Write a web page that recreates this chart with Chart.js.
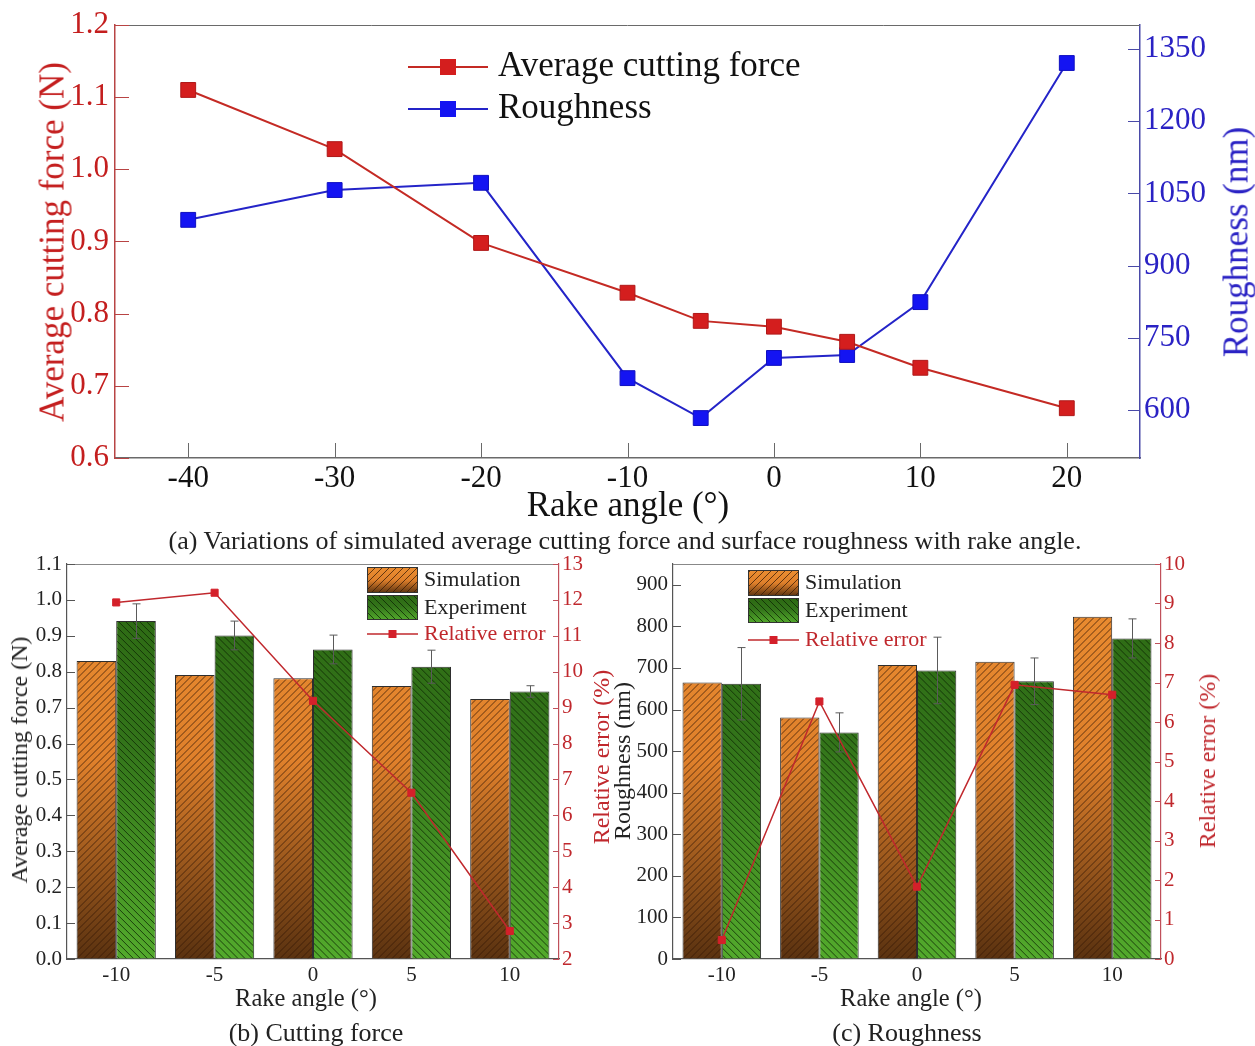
<!DOCTYPE html>
<html>
<head>
<meta charset="utf-8">
<script src="https://cdn.jsdelivr.net/npm/chart.js@4"></script>
<style>
body { margin: 0; background: #fff; }
#fig { position: relative; width: 1255px; height: 1046px; overflow: hidden; font-family: 'Liberation Serif', 'Times New Roman', serif; }
canvas { position: absolute; }
.lbl { position: absolute; white-space: nowrap; line-height: 1; transform: translate(-50%, -50%); }
.rot { transform: translate(-50%, -50%) rotate(-90deg); }
</style>
</head>
<body>
<div id="fig">
  <canvas id="chartA" width="1255" height="520" style="left:0px;top:0px"></canvas>
  <canvas id="chartB" width="620" height="460" style="left:0px;top:540px"></canvas>
  <canvas id="chartC" width="635" height="460" style="left:620px;top:540px"></canvas>

  <div class="lbl rot" style="left:52px;top:242px;font-size:35px;color:#c41e1e">Average cutting force (N)</div>
  <div class="lbl rot" style="left:1236px;top:242px;font-size:35px;color:#2a22c4">Roughness (nm)</div>
  <div class="lbl" style="left:628px;top:504px;font-size:35px;color:#111">Rake angle (°)</div>
  <div class="lbl" style="left:625px;top:541px;font-size:26px;color:#222">(a) Variations of simulated average cutting force and surface roughness with rake angle.</div>

  <div class="lbl rot" style="left:19px;top:760px;font-size:24px;color:#222">Average cutting force (N)</div>
  <div class="lbl rot" style="left:601px;top:757px;font-size:24px;color:#c0282d">Relative error (%)</div>
  <div class="lbl" style="left:306px;top:998px;font-size:24.5px;color:#222">Rake angle (°)</div>
  <div class="lbl" style="left:316px;top:1033px;font-size:26px;color:#222">(b) Cutting force</div>

  <div class="lbl rot" style="left:622px;top:761px;font-size:24px;color:#222">Roughness (nm)</div>
  <div class="lbl rot" style="left:1207px;top:761px;font-size:24px;color:#c0282d">Relative error (%)</div>
  <div class="lbl" style="left:911px;top:998px;font-size:24.5px;color:#222">Rake angle (°)</div>
  <div class="lbl" style="left:907px;top:1033px;font-size:26px;color:#222">(c) Roughness</div>
</div>
<script>
// (a) cutting force and roughness vs rake angle
const rakeA = [-40, -30, -20, -10, -5, 0, 5, 10, 20];
const forceA = [1.11, 1.028, 0.898, 0.829, 0.79, 0.782, 0.761, 0.725, 0.669];
const roughA = [995, 1057, 1072, 666, 583, 708, 714, 824, 1321];
const xTicksA = [-40, -30, -20, -10, 0, 10, 20];
const forceTicksA = [0.6, 0.7, 0.8, 0.9, 1.0, 1.1, 1.2];
const roughTicksA = [600, 750, 900, 1050, 1200, 1350];

// (b) cutting force, simulation vs experiment
const rakeBC = ['-10', '-5', '0', '5', '10'];
const forceSim = [0.83, 0.791, 0.782, 0.76, 0.724];
const forceExp = [0.941, 0.901, 0.862, 0.814, 0.745];
const forceExpErr = [0.048, 0.04, 0.04, 0.046, 0.016];
const forceRelErr = [11.93, 12.2, 9.19, 6.63, 2.78];
const forceTicks = [0, 0.1, 0.2, 0.3, 0.4, 0.5, 0.6, 0.7, 0.8, 0.9, 1.0, 1.1];
const forceErrTicks = [2, 3, 4, 5, 6, 7, 8, 9, 10, 11, 12, 13];

// (c) roughness, simulation vs experiment
const roughSim = [665, 581, 707, 715, 823];
const roughExp = [662, 545, 694, 668, 771];
const roughExpErr = [87, 47, 80, 56, 47];
const roughRelErr = [0.48, 6.52, 1.83, 6.94, 6.69];
const roughTicks = [0, 100, 200, 300, 400, 500, 600, 700, 800, 900];
const roughErrTicks = [0, 1, 2, 3, 4, 5, 6, 7, 8, 9, 10];

Chart.defaults.font.family = "'Liberation Serif', 'Times New Roman', serif";
Chart.defaults.color = '#222';

const RED = '#c0282d';
const simStops = [[0, '#ec8e31'], [0.5, '#df802b'], [1, '#5a3210']];
const expStops = [[0, '#2c6812'], [0.45, '#33741a'], [1, '#53aa2c']];

// diagonal hatch inside a rectangle
function hatch(ctx, l, t, r, b, dir, color) {
  ctx.save();
  ctx.beginPath();
  ctx.rect(l, t, r - l, b - t);
  ctx.clip();
  ctx.strokeStyle = color;
  ctx.lineWidth = 1;
  ctx.beginPath();
  const h = b - t;
  const start = Math.floor((l - h) / 7) * 7;
  for (let x = start; x < r + h; x += 7) {
    if (dir > 0) { ctx.moveTo(x, b); ctx.lineTo(x + h, t); }
    else { ctx.moveTo(x, t); ctx.lineTo(x + h, b); }
  }
  ctx.stroke();
  ctx.restore();
}

// vertical gradient over the plot area
function areaFill(stops) {
  return function (c) {
    const area = c.chart.chartArea;
    if (!area) return stops[0][1];
    const g = c.chart.ctx.createLinearGradient(0, area.top, 0, area.bottom);
    stops.forEach(s => g.addColorStop(s[0], s[1]));
    return g;
  };
}

// hatch + error bars drawn right after each bar dataset
const barDeco = {
  id: 'barDeco',
  afterDatasetDraw(chart, args) {
    const ds = chart.data.datasets[args.index];
    if (!ds.hatch) return;
    const ctx = chart.ctx;
    const yScale = chart.scales[args.meta.yAxisID];
    args.meta.data.forEach((el, i) => {
      const p = el.getProps(['x', 'y', 'base', 'width'], true);
      hatch(ctx, p.x - p.width / 2 + 1, p.y + 1, p.x + p.width / 2 - 1, p.base, ds.hatch, ds.hatchColor);
      if (ds.errors) {
        const top = yScale.getPixelForValue(ds.data[i] + ds.errors[i]);
        const bot = yScale.getPixelForValue(ds.data[i] - ds.errors[i]);
        const x = Math.round(p.x) + 0.5;
        ctx.save();
        ctx.strokeStyle = '#5a5a5a';
        ctx.lineWidth = 1;
        ctx.beginPath();
        ctx.moveTo(x, top); ctx.lineTo(x, bot);
        ctx.moveTo(x - 4, top); ctx.lineTo(x + 4, top);
        ctx.moveTo(x - 4, bot); ctx.lineTo(x + 4, bot);
        ctx.stroke();
        ctx.restore();
      }
    });
  }
};

// inward tick marks and top frame line
function frameTicks(specs, topColor) {
  return {
    id: 'frameTicks',
    afterDraw(chart) {
      const ctx = chart.ctx, a = chart.chartArea;
      ctx.save();
      ctx.lineWidth = 1;
      ctx.strokeStyle = topColor;
      ctx.beginPath();
      ctx.moveTo(a.left, a.top + 0.5); ctx.lineTo(a.right, a.top + 0.5);
      ctx.stroke();
      specs.forEach(s => {
        const sc = chart.scales[s.axis];
        ctx.strokeStyle = s.color;
        ctx.beginPath();
        sc.ticks.forEach(t => {
          const v = Math.round(sc.getPixelForValue(t.value)) + 0.5;
          if (s.side === 'left') { ctx.moveTo(a.left, v); ctx.lineTo(a.left + s.len, v); }
          if (s.side === 'right') { ctx.moveTo(a.right, v); ctx.lineTo(a.right - s.len, v); }
          if (s.side === 'bottom') { ctx.moveTo(v, a.bottom); ctx.lineTo(v, a.bottom - s.len); }
        });
        ctx.stroke();
      });
      ctx.restore();
    }
  };
}

// legend drawn inside the plot
function legendBox(cfg) {
  return {
    id: 'legendBox',
    afterDraw(chart) {
      const ctx = chart.ctx;
      ctx.save();
      ctx.font = cfg.font;
      ctx.textBaseline = 'middle';
      cfg.items.forEach(it => {
        if (it.kind === 'line') {
          ctx.strokeStyle = it.color;
          ctx.lineWidth = it.lw;
          ctx.beginPath();
          ctx.moveTo(cfg.x, it.y); ctx.lineTo(cfg.x + cfg.w, it.y);
          ctx.stroke();
          ctx.fillStyle = it.marker;
          ctx.fillRect(cfg.x + cfg.w / 2 - it.size / 2, it.y - it.size / 2, it.size, it.size);
        } else {
          const g = ctx.createLinearGradient(0, it.y, 0, it.y + it.h);
          it.stops.forEach(s => g.addColorStop(s[0], s[1]));
          ctx.fillStyle = g;
          ctx.fillRect(cfg.x, it.y, cfg.w, it.h);
          hatch(ctx, cfg.x, it.y, cfg.x + cfg.w, it.y + it.h, it.dir, it.hatchColor);
          ctx.strokeStyle = '#333';
          ctx.lineWidth = 1;
          ctx.strokeRect(cfg.x + 0.5, it.y + 0.5, cfg.w - 1, it.h - 1);
        }
        ctx.fillStyle = it.textColor;
        ctx.fillText(it.text, cfg.x + cfg.w + cfg.gap, it.ty);
      });
      ctx.restore();
    }
  };
}

function fixTicks(list) {
  return s => { s.ticks = list.map(v => ({ value: v })); };
}

// ---------- chart (a) ----------
new Chart(document.getElementById('chartA'), {
  type: 'line',
  data: {
    datasets: [
      {
        label: 'Average cutting force',
        data: rakeA.map((x, i) => ({ x: x, y: forceA[i] })),
        yAxisID: 'y',
        borderColor: '#c42a24',
        borderWidth: 2,
        pointStyle: 'rect',
        pointRadius: 10.5,
        pointBackgroundColor: '#d41e1e',
        pointBorderColor: '#b01818',
        pointBorderWidth: 1
      },
      {
        label: 'Roughness',
        data: rakeA.map((x, i) => ({ x: x, y: roughA[i] })),
        yAxisID: 'y2',
        borderColor: '#2424c8',
        borderWidth: 2,
        pointStyle: 'rect',
        pointRadius: 10.5,
        pointBackgroundColor: '#1414f2',
        pointBorderColor: '#1010c0',
        pointBorderWidth: 1
      }
    ]
  },
  options: {
    responsive: false,
    animation: false,
    layout: { padding: { top: 25, left: 0, right: 0, bottom: 0 } },
    plugins: { legend: { display: false }, tooltip: { enabled: false } },
    scales: {
      x: {
        type: 'linear',
        min: -45, max: 25,
        afterBuildTicks: fixTicks(xTicksA),
        afterFit: s => { s.height = 62; },
        grid: { drawOnChartArea: false, drawTicks: false },
        border: { color: '#6a6a6a', width: 1.5 },
        ticks: { color: '#111', font: { size: 31 }, padding: 2, maxRotation: 0, callback: v => String(v) }
      },
      y: {
        position: 'left',
        min: 0.6, max: 1.2,
        afterBuildTicks: fixTicks(forceTicksA),
        afterFit: s => { s.width = 115; },
        grid: { drawOnChartArea: false, drawTicks: false },
        border: { color: '#b84444', width: 1.5 },
        ticks: { color: '#c41e1e', font: { size: 31 }, padding: 6, callback: v => v.toFixed(1) }
      },
      y2: {
        position: 'right',
        min: 500, max: 1400,
        afterBuildTicks: fixTicks(roughTicksA),
        afterFit: s => { s.width = 115; },
        grid: { drawOnChartArea: false, drawTicks: false },
        border: { color: '#4a4aa8', width: 1.5 },
        ticks: { color: '#2a22c4', font: { size: 31 }, padding: 4, callback: v => String(v) }
      }
    }
  },
  plugins: [
    frameTicks([
      { axis: 'y', side: 'left', len: 14, color: '#b84444' },
      { axis: 'y2', side: 'right', len: 12, color: '#4a4aa8' },
      { axis: 'x', side: 'bottom', len: 15, color: '#6a6a6a' }
    ], '#6a6a6a'),
    legendBox({
      x: 408, w: 80, gap: 10, font: "35px 'Liberation Serif'",
      items: [
        { kind: 'line', y: 67, ty: 67, color: '#c42a24', lw: 2, marker: '#d41e1e', size: 16, text: 'Average cutting force', textColor: '#111' },
        { kind: 'line', y: 109, ty: 109, color: '#2424c8', lw: 2, marker: '#1414f2', size: 16, text: 'Roughness', textColor: '#111' }
      ]
    })
  ]
});

// ---------- shared builder for (b) and (c) ----------
function barChart(id, simData, expData, expErr, relData, leftTicks, leftMax, rightTicks, rightMin, rightMax, leftWidth, rightWidth, fmt, leg) {
  return new Chart(document.getElementById(id), {
    type: 'bar',
    data: {
      labels: rakeBC,
      datasets: [
        {
          type: 'line',
          label: 'Relative error',
          data: relData,
          yAxisID: 'y2',
          order: 0,
          borderColor: RED,
          borderWidth: 1.5,
          pointStyle: 'rect',
          pointRadius: 5,
          pointBackgroundColor: '#d4202a',
          pointBorderColor: '#d4202a',
          pointBorderWidth: 1
        },
        {
          label: 'Simulation',
          data: simData,
          yAxisID: 'y',
          order: 1,
          backgroundColor: areaFill(simStops),
          borderColor: '#2e2e2e',
          borderWidth: 1,
          categoryPercentage: 0.805,
          barPercentage: 1,
          hatch: 1,
          hatchColor: 'rgba(55,25,5,0.75)'
        },
        {
          label: 'Experiment',
          data: expData,
          yAxisID: 'y',
          order: 2,
          backgroundColor: areaFill(expStops),
          borderColor: '#2e2e2e',
          borderWidth: 1,
          categoryPercentage: 0.805,
          barPercentage: 1,
          hatch: -1,
          hatchColor: 'rgba(15,40,5,0.8)',
          errors: expErr
        }
      ]
    },
    options: {
      responsive: false,
      animation: false,
      layout: { padding: { top: 24, left: 0, right: 0, bottom: 0 } },
      plugins: { legend: { display: false }, tooltip: { enabled: false } },
      scales: {
        x: {
          afterFit: s => { s.height = 41; },
          grid: { drawOnChartArea: false, drawTicks: false },
          border: { color: '#555', width: 1.2 },
          ticks: { color: '#222', font: { size: 21 }, padding: 4, maxRotation: 0 }
        },
        y: {
          position: 'left',
          min: 0, max: leftMax,
          afterBuildTicks: fixTicks(leftTicks),
          afterFit: s => { s.width = leftWidth; },
          grid: { drawOnChartArea: false, drawTicks: false },
          border: { color: '#555', width: 1.2 },
          ticks: { color: '#222', font: { size: 21 }, padding: 5, callback: fmt }
        },
        y2: {
          position: 'right',
          min: rightMin, max: rightMax,
          afterBuildTicks: fixTicks(rightTicks),
          afterFit: s => { s.width = rightWidth; },
          grid: { drawOnChartArea: false, drawTicks: false },
          border: { color: '#c0505a', width: 1.2 },
          ticks: { color: RED, font: { size: 21 }, padding: 3, callback: v => String(v) }
        }
      }
    },
    plugins: [
      barDeco,
      frameTicks([
        { axis: 'y', side: 'left', len: 8, color: '#555' },
        { axis: 'y2', side: 'right', len: 6, color: '#c0505a' }
      ], '#888'),
      legendBox({
        x: leg.x, w: 51, gap: 6, font: "22px 'Liberation Serif'",
        items: [
          { kind: 'swatch', y: leg.y, h: 26, ty: leg.y + 13, stops: simStops, dir: 1, hatchColor: 'rgba(55,25,5,0.75)', text: 'Simulation', textColor: '#222' },
          { kind: 'swatch', y: leg.y + 28, h: 25, ty: leg.y + 41, stops: expStops, dir: -1, hatchColor: 'rgba(15,40,5,0.8)', text: 'Experiment', textColor: '#222' },
          { kind: 'line', y: leg.y + leg.dl, ty: leg.y + leg.dl, color: RED, lw: 1.5, marker: '#d4202a', size: 8, text: 'Relative error', textColor: RED }
        ]
      })
    ]
  });
}

barChart('chartB', forceSim, forceExp, forceExpErr, forceRelErr,
  forceTicks, 1.1, forceErrTicks, 2, 13, 67, 61, v => v.toFixed(1),
  { x: 367, y: 27, dl: 67 });

barChart('chartC', roughSim, roughExp, roughExpErr, roughRelErr,
  roughTicks, 950, roughErrTicks, 0, 10, 53, 94, v => String(v),
  { x: 128, y: 30, dl: 70 });
</script>
</body>
</html>
